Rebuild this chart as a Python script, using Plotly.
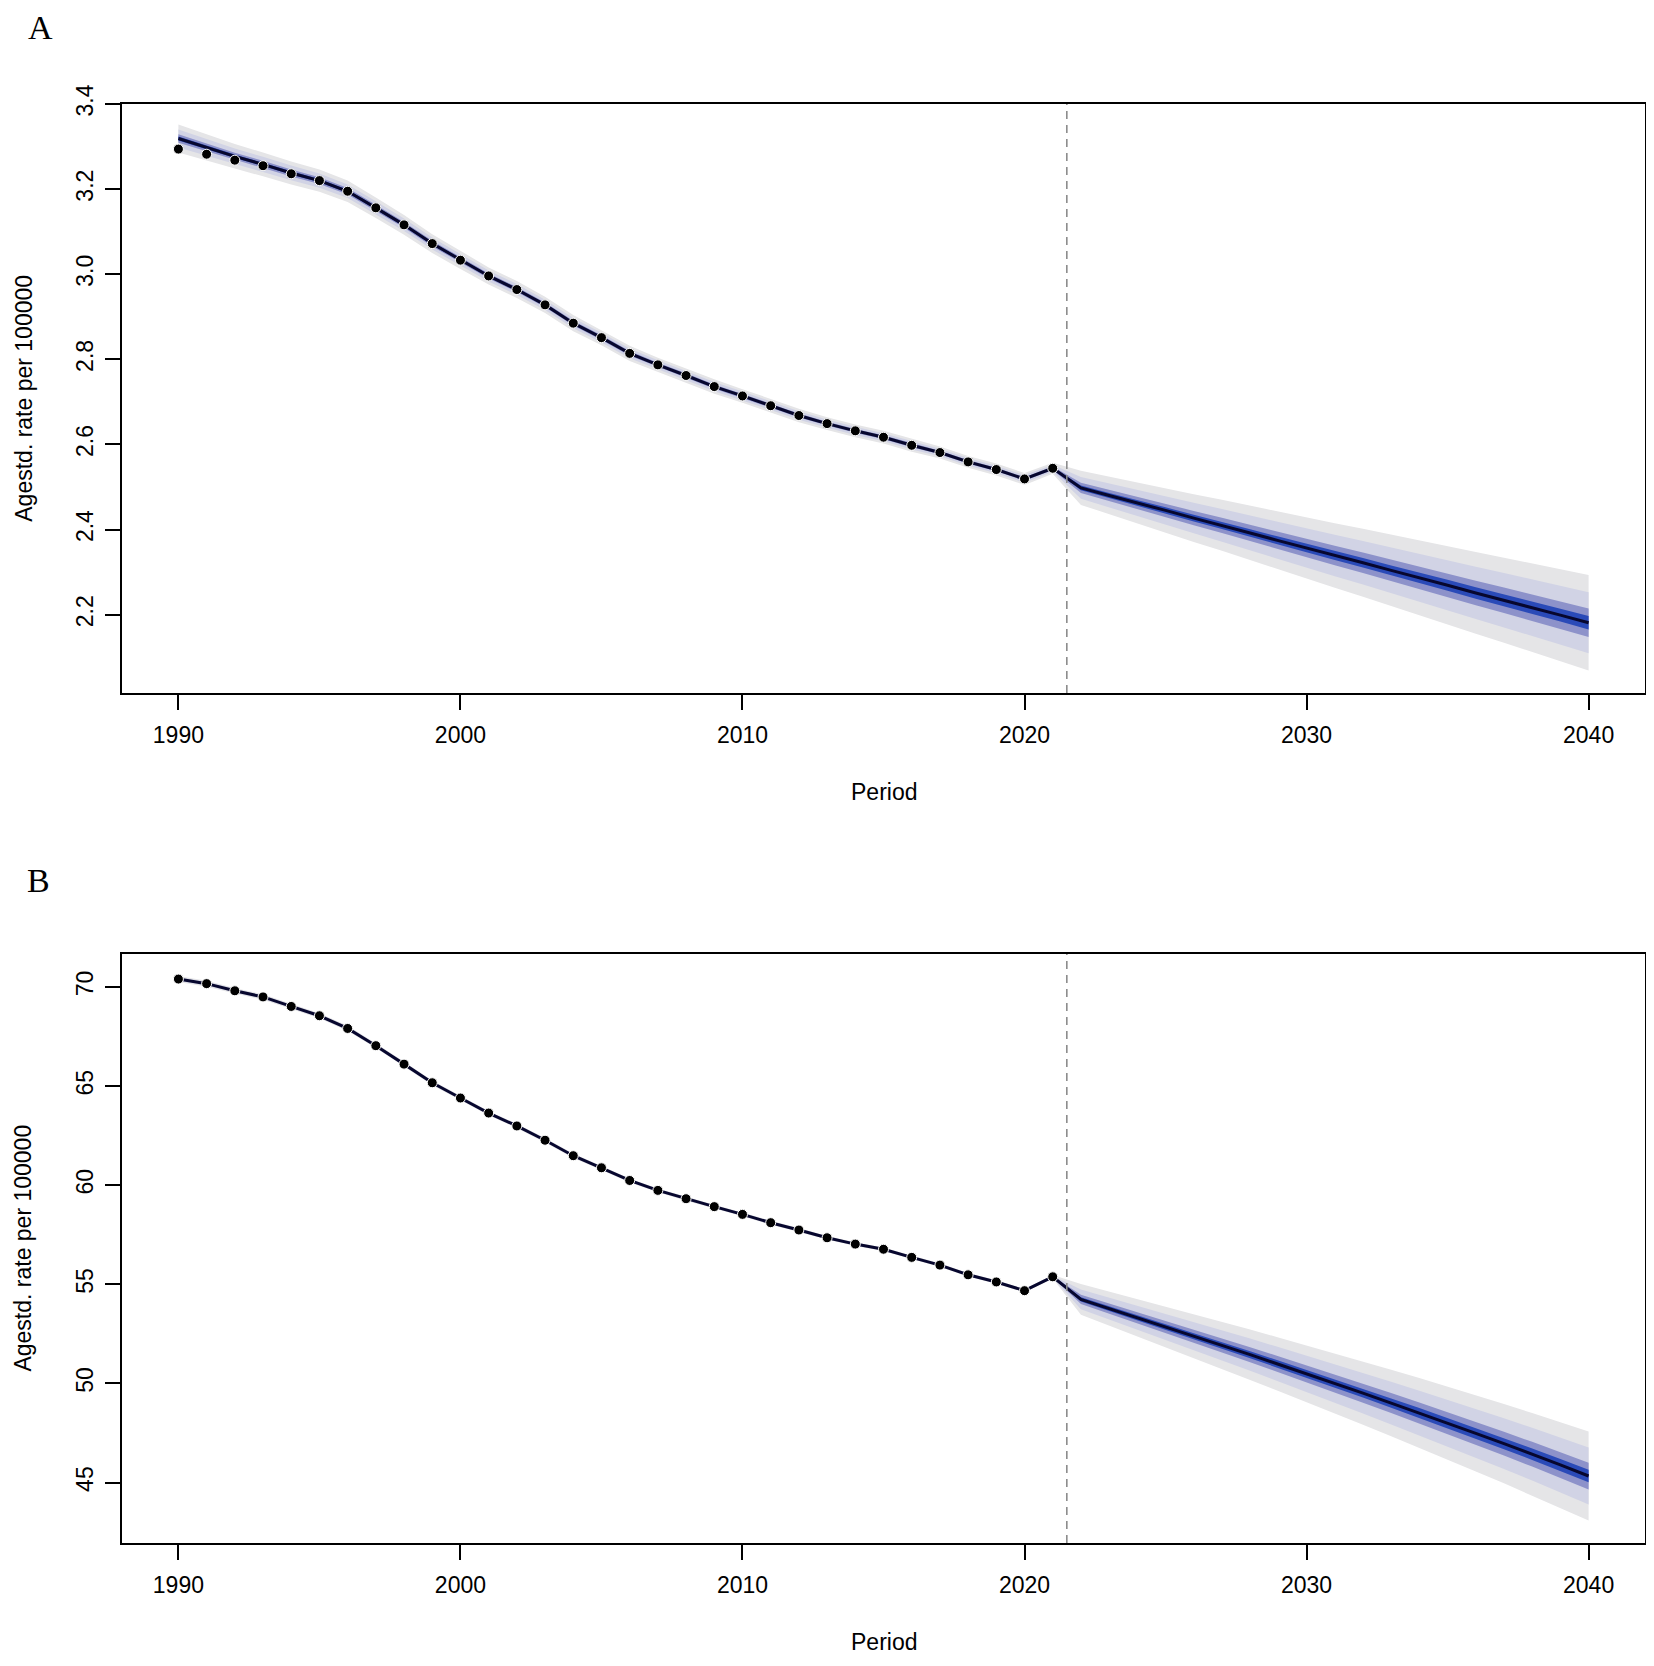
import plotly.graph_objs as go

# years
obs_years = list(range(1990, 2022))
all_years = list(range(1990, 2041))

# Panel A - observed age-standardised rate
obs_a = [3.294, 3.282, 3.268, 3.255, 3.236, 3.220, 3.195, 3.156, 3.116, 3.072,
         3.033, 2.996, 2.964, 2.928, 2.885, 2.851, 2.814, 2.787, 2.762, 2.736,
         2.714, 2.691, 2.668, 2.649, 2.632, 2.617, 2.598, 2.581, 2.559, 2.541,
         2.519, 2.544]
# fitted / projected mean, 1990-2040
fit_a = [3.319, 3.298, 3.277, 3.258, 3.238, 3.220, 3.195, 3.156, 3.116, 3.072,
         3.033, 2.996, 2.964, 2.928, 2.885, 2.851, 2.814, 2.787, 2.762, 2.736,
         2.714, 2.691, 2.668, 2.649, 2.632, 2.617, 2.598, 2.581, 2.559, 2.541,
         2.519, 2.544,
         2.498, 2.480, 2.463, 2.445, 2.427, 2.410, 2.392, 2.374, 2.357, 2.339,
         2.322, 2.304, 2.287, 2.269, 2.251, 2.234, 2.216, 2.199, 2.181]
# half width of the outer (95%) band
spread_a = [0.033, 0.031, 0.029, 0.028, 0.027, 0.026, 0.025, 0.024, 0.023, 0.022,
            0.021, 0.020, 0.020, 0.019, 0.019, 0.018, 0.018, 0.017, 0.017, 0.017,
            0.016, 0.016, 0.016, 0.015, 0.015, 0.015, 0.015, 0.014, 0.014, 0.014,
            0.014, 0.013,
            0.040, 0.044, 0.048, 0.052, 0.056, 0.060, 0.064, 0.068, 0.072, 0.076,
            0.080, 0.084, 0.088, 0.092, 0.096, 0.100, 0.104, 0.108, 0.112]

# Panel B
obs_b = [70.40, 70.17, 69.81, 69.50, 69.02, 68.55, 67.91, 67.04, 66.11, 65.17,
         64.40, 63.64, 62.99, 62.27, 61.49, 60.88, 60.24, 59.74, 59.32, 58.92,
         58.53, 58.11, 57.74, 57.35, 57.03, 56.77, 56.36, 55.97, 55.48, 55.12,
         54.68, 55.38]
fit_b = [70.40, 70.17, 69.81, 69.50, 69.02, 68.55, 67.91, 67.04, 66.11, 65.17,
         64.40, 63.64, 62.99, 62.27, 61.49, 60.88, 60.24, 59.74, 59.32, 58.92,
         58.53, 58.11, 57.74, 57.35, 57.03, 56.77, 56.36, 55.97, 55.48, 55.12,
         54.68, 55.38,
         54.24, 53.78, 53.32, 52.86, 52.39, 51.92, 51.45, 50.97, 50.49, 50.00,
         49.51, 49.01, 48.51, 48.00, 47.48, 46.96, 46.43, 45.89, 45.33]
spread_b = [0.15, 0.15, 0.14, 0.14, 0.13, 0.13, 0.13, 0.12, 0.12, 0.12,
            0.12, 0.11, 0.11, 0.11, 0.11, 0.11, 0.10, 0.10, 0.10, 0.10,
            0.10, 0.10, 0.10, 0.09, 0.09, 0.09, 0.09, 0.09, 0.09, 0.09,
            0.09, 0.09,
            0.78, 0.86, 0.94, 1.03, 1.11, 1.19, 1.27, 1.35, 1.43, 1.51,
            1.60, 1.68, 1.76, 1.84, 1.92, 2.00, 2.08, 2.17, 2.25]

# fan levels (fraction of outer half width) and their colours
band_frac = [1.0, 0.64, 0.30, 0.14]
band_colors = ['#e5e5e7', '#d1d3e5', '#8d92ca', '#2a4ab8']

cutoff_year = 2021.5

fig = go.Figure()


def draw_panel(xa, ya, obs, fit, spread):
    # fan bands, outer first
    for frac, col in zip(band_frac, band_colors):
        upper = [m + s * frac for m, s in zip(fit, spread)]
        lower = [m - s * frac for m, s in zip(fit, spread)]
        fig.add_trace(go.Scatter(x=all_years + all_years[::-1],
                                 y=upper + lower[::-1],
                                 fill='toself', fillcolor=col, mode='lines',
                                 line=dict(width=0), hoverinfo='skip',
                                 showlegend=False, xaxis=xa, yaxis=ya))
    # mean line
    fig.add_trace(go.Scatter(x=all_years, y=fit, mode='lines',
                             line=dict(color='#07072e', width=3),
                             showlegend=False, xaxis=xa, yaxis=ya))
    # observed points
    fig.add_trace(go.Scatter(x=obs_years, y=obs, mode='markers',
                             marker=dict(color='black', size=10,
                                         line=dict(color='white', width=1)),
                             showlegend=False, xaxis=xa, yaxis=ya))


draw_panel('x', 'y', obs_a, fit_a, spread_a)
draw_panel('x2', 'y2', obs_b, fit_b, spread_b)

# dashed separator between observed and projected period
for xr, yr in [('x', 'y domain'), ('x2', 'y2 domain')]:
    fig.add_shape(type='line', xref=xr, yref=yr, x0=cutoff_year, x1=cutoff_year,
                  y0=0, y1=1, line=dict(color='#8c8c8c', width=1.6, dash='8px,6px'))

axis_font = dict(family='Liberation Sans, Arial', size=23, color='black')
xaxis_common = dict(range=[1988, 2042], tickvals=[1990, 2000, 2010, 2020, 2030, 2040],
                    showgrid=False, zeroline=False, showline=True, mirror=True,
                    linecolor='black', linewidth=1.6, ticks='outside', ticklen=15,
                    tickwidth=1.6, tickcolor='black', tickfont=axis_font,
                    ticklabelstandoff=6)
yaxis_common = dict(showgrid=False, zeroline=False, showline=True, mirror=True,
                    linecolor='black', linewidth=1.6, ticks='outside', ticklen=15,
                    tickwidth=1.6, tickcolor='black', tickfont=axis_font,
                    tickangle=-90, ticklabelstandoff=3)

# page body adds an 8px margin, so the figure is drawn 8px smaller
fig.update_layout(
    width=1646, height=1650,
    margin=dict(l=114, r=7, t=96, b=115),
    plot_bgcolor='white', paper_bgcolor='white',
    xaxis=dict(xaxis_common, domain=[0, 1], anchor='y'),
    yaxis=dict(yaxis_common, domain=[0.5907, 1], anchor='x',
               range=[2.016, 3.4], tickvals=[2.2, 2.4, 2.6, 2.8, 3.0, 3.2, 3.4],
               tickformat='.1f'),
    xaxis2=dict(xaxis_common, domain=[0, 1], anchor='y2'),
    yaxis2=dict(yaxis_common, domain=[0, 0.4093], anchor='x2',
                range=[41.95, 71.665], tickvals=[45, 50, 55, 60, 65, 70]),
)

# axis titles and panel letters
labels = [
    ('Period', 0.5, 0.5219, 0),
    ('Period', 0.5, -0.0688, 0),
    ('Agestd. rate per 100000', -0.0649, 0.7953, -90),
    ('Agestd. rate per 100000', -0.0649, 0.2047, -90),
]
for txt, xp, yp, ang in labels:
    fig.add_annotation(text=txt, x=xp, y=yp, xref='paper', yref='paper',
                       xanchor='center', yanchor='middle', textangle=ang,
                       showarrow=False, font=axis_font)

letter_font = dict(family='Liberation Serif, Times New Roman', size=34, color='black')
fig.add_annotation(text='A', x=-0.0538, y=1.0667, xref='paper', yref='paper',
                   xanchor='center', yanchor='top', showarrow=False, borderpad=0,
                   font=letter_font)
fig.add_annotation(text='B', x=-0.0551, y=0.4607, xref='paper', yref='paper',
                   xanchor='center', yanchor='middle', showarrow=False,
                   font=letter_font)

fig.write_html('out.html')
